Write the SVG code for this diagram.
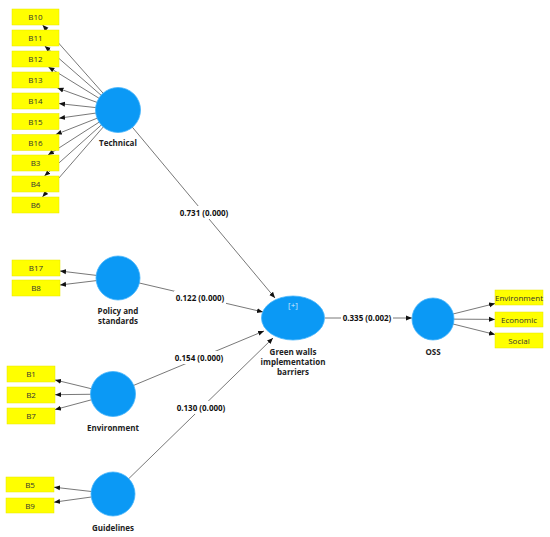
<svg xmlns="http://www.w3.org/2000/svg" width="550" height="537" viewBox="0 0 550 537">
<defs>
<marker id="arr" markerUnits="userSpaceOnUse" markerWidth="6" markerHeight="6" viewBox="0 0 6 6" refX="6" refY="3" orient="auto">
<path d="M0,0.5 L6,3 L0,5.5 Z" fill="#111"/>
</marker>
<style>
.ln{stroke:#555;stroke-width:0.8;fill:none;marker-end:url(#arr)}
.ind{fill:#ffff00;stroke:#e6e600;stroke-width:0.5}
.it{font-family:"Open Sans","Noto Sans",sans-serif;font-size:8px;fill:#333;text-anchor:middle}
.lv{fill:#0b99f5;stroke:#45b4fb;stroke-width:0.8}
.lt{font-family:"Open Sans","Noto Sans",sans-serif;font-size:8px;font-weight:bold;fill:#222;text-anchor:middle}
.pl{font-family:"Open Sans","Noto Sans",sans-serif;font-size:8px;font-weight:bold;fill:#111;text-anchor:middle}
.bg{fill:#fff}
</style>
</defs>
<rect width="550" height="537" fill="#fff"/>
<g id="connectors">
<line class="ln" x1="118" y1="110" x2="42.6" y2="25"/>
<line class="ln" x1="118" y1="110" x2="44.7" y2="46"/>
<line class="ln" x1="118" y1="110" x2="48.4" y2="67"/>
<line class="ln" x1="118" y1="110" x2="57.5" y2="88"/>
<line class="ln" x1="118" y1="110" x2="59" y2="103.6"/>
<line class="ln" x1="118" y1="110" x2="59" y2="118.2"/>
<line class="ln" x1="118" y1="110" x2="55.8" y2="134.5"/>
<line class="ln" x1="118" y1="110" x2="48" y2="155"/>
<line class="ln" x1="118" y1="110" x2="44.4" y2="176"/>
<line class="ln" x1="118" y1="110" x2="42.4" y2="197"/>
<line class="ln" x1="118" y1="278" x2="60" y2="271"/>
<line class="ln" x1="118" y1="278" x2="60" y2="285"/>
<line class="ln" x1="113" y1="394" x2="55" y2="379.9"/>
<line class="ln" x1="113" y1="394" x2="55" y2="394.7"/>
<line class="ln" x1="113" y1="394" x2="55" y2="409.6"/>
<line class="ln" x1="113" y1="494" x2="54" y2="487.2"/>
<line class="ln" x1="113" y1="494" x2="54" y2="502.2"/>
<line class="ln" x1="433" y1="319" x2="495" y2="303.5"/>
<line class="ln" x1="433" y1="319" x2="495" y2="319.4"/>
<line class="ln" x1="433" y1="319" x2="495" y2="334.5"/>
<line class="ln" x1="118" y1="110" x2="275" y2="298"/>
<line class="ln" x1="118" y1="278" x2="263" y2="312"/>
<line class="ln" x1="113" y1="394" x2="264" y2="331"/>
<line class="ln" x1="113" y1="494" x2="273" y2="338"/>
<line class="ln" x1="325" y1="318" x2="412" y2="318"/>
<rect class="bg" x="178" y="206" width="52" height="13"/>
<text class="pl" x="204" y="216">0.731 (0.000)</text>
<rect class="bg" x="174" y="291" width="52" height="13"/>
<text class="pl" x="200" y="301">0.122 (0.000)</text>
<rect class="bg" x="173" y="351" width="52" height="13"/>
<text class="pl" x="199" y="361">0.154 (0.000)</text>
<rect class="bg" x="175" y="401" width="52" height="13"/>
<text class="pl" x="201" y="411">0.130 (0.000)</text>
<rect class="bg" x="341" y="312" width="52" height="13"/>
<text class="pl" x="367" y="321">0.335 (0.002)</text>
</g>
<g id="B10"><rect class="ind" x="12" y="9" width="47" height="16"/><text class="it" x="35.5" y="20">B10</text></g>
<g id="B11"><rect class="ind" x="12" y="30" width="47" height="16"/><text class="it" x="35.5" y="41">B11</text></g>
<g id="B12"><rect class="ind" x="12" y="51" width="47" height="16"/><text class="it" x="35.5" y="62">B12</text></g>
<g id="B13"><rect class="ind" x="12" y="72" width="47" height="16"/><text class="it" x="35.5" y="83">B13</text></g>
<g id="B14"><rect class="ind" x="12" y="93" width="47" height="16"/><text class="it" x="35.5" y="104">B14</text></g>
<g id="B15"><rect class="ind" x="12" y="113.5" width="47" height="16"/><text class="it" x="35.5" y="124.5">B15</text></g>
<g id="B16"><rect class="ind" x="12" y="134.5" width="47" height="16"/><text class="it" x="35.5" y="145.5">B16</text></g>
<g id="B3"><rect class="ind" x="12" y="155" width="47" height="16"/><text class="it" x="35.5" y="166">B3</text></g>
<g id="B4"><rect class="ind" x="12" y="176" width="47" height="16"/><text class="it" x="35.5" y="187">B4</text></g>
<g id="B6"><rect class="ind" x="12" y="197" width="47" height="16"/><text class="it" x="35.5" y="208">B6</text></g>
<g id="B17"><rect class="ind" x="12" y="260" width="48" height="16"/><text class="it" x="36" y="271">B17</text></g>
<g id="B8"><rect class="ind" x="12" y="280" width="48" height="16"/><text class="it" x="36" y="291">B8</text></g>
<g id="B1"><rect class="ind" x="7" y="366" width="48" height="16"/><text class="it" x="31" y="377">B1</text></g>
<g id="B2"><rect class="ind" x="7" y="387" width="48" height="16"/><text class="it" x="31" y="398">B2</text></g>
<g id="B7"><rect class="ind" x="7" y="408" width="48" height="16"/><text class="it" x="31" y="419">B7</text></g>
<g id="B5"><rect class="ind" x="6" y="477" width="48" height="15"/><text class="it" x="30" y="487.5">B5</text></g>
<g id="B9"><rect class="ind" x="6" y="498" width="48" height="15"/><text class="it" x="30" y="508.5">B9</text></g>
<g id="OSS_Environment"><rect class="ind" x="495" y="290" width="48" height="15"/><text class="it" x="519" y="300.5">Environment</text></g>
<g id="OSS_Economic"><rect class="ind" x="495" y="312" width="48" height="15"/><text class="it" x="519" y="322.5">Economic</text></g>
<g id="OSS_Social"><rect class="ind" x="495" y="333" width="48" height="15"/><text class="it" x="519" y="343.5">Social</text></g>
<g id="Technical"><circle class="lv" cx="118" cy="110" r="22.5"/><text class="lt" x="118" y="146">Technical</text></g>
<g id="Policy"><circle class="lv" cx="118" cy="278" r="22"/><text class="lt" x="118" y="314">Policy and</text><text class="lt" x="118" y="324">standards</text></g>
<g id="Environment"><circle class="lv" cx="113" cy="394" r="22.5"/><text class="lt" x="113" y="431">Environment</text></g>
<g id="Guidelines"><circle class="lv" cx="113" cy="494" r="22"/><text class="lt" x="113" y="531">Guidelines</text></g>
<g id="GreenWalls"><ellipse class="lv" cx="293" cy="318" rx="31.5" ry="22"/><text x="293" y="308" font-family="Open Sans, sans-serif" font-size="8" fill="#cde9ff" text-anchor="middle">[+]</text><text class="lt" x="293" y="355">Green walls</text><text class="lt" x="293" y="365">implementation</text><text class="lt" x="293" y="375">barriers</text></g>
<g id="OSS"><circle class="lv" cx="433" cy="319" r="21"/><text class="lt" x="433" y="355">OSS</text></g>
</svg>
